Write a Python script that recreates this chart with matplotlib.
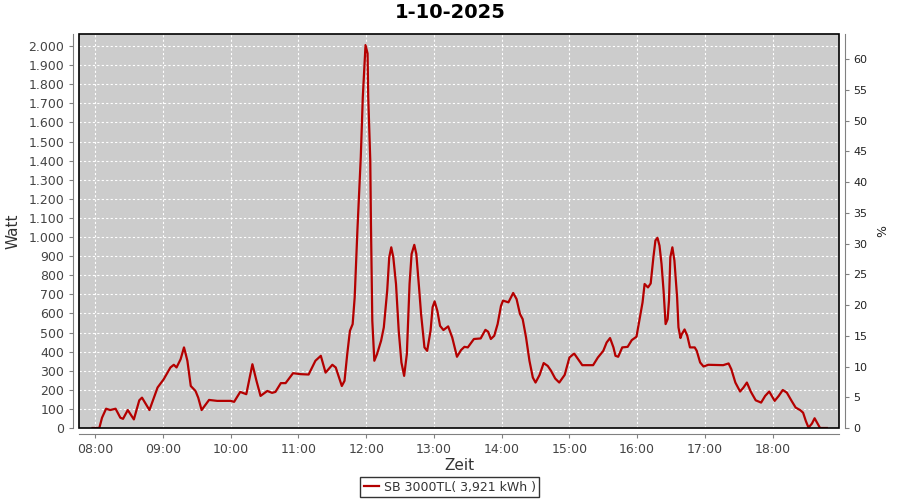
import matplotlib
matplotlib.use("Agg")
import matplotlib.pyplot as plt
from matplotlib.patches import Rectangle
from matplotlib.ticker import FuncFormatter, MultipleLocator, FixedLocator

# time in decimal hours, power in watt
hours = [7.96, 8.06, 8.10, 8.16, 8.22, 8.30, 8.37, 8.41, 8.48, 8.57, 8.65, 8.69, 8.80, 8.92,
         9.01, 9.11, 9.16, 9.20, 9.26, 9.31, 9.33, 9.36, 9.41, 9.48, 9.52, 9.57, 9.68, 9.80,
         10.00, 10.05, 10.14, 10.23, 10.32, 10.38, 10.44, 10.54, 10.61, 10.66, 10.74, 10.81,
         10.92, 11.03, 11.15, 11.25, 11.33, 11.40, 11.50, 11.55, 11.64, 11.68, 11.72, 11.76,
         11.80, 11.83, 11.87, 11.92, 11.95, 11.99, 12.02, 12.03, 12.06, 12.07, 12.09, 12.12,
         12.16, 12.22, 12.26, 12.31, 12.34, 12.37, 12.40, 12.44, 12.48, 12.52, 12.56, 12.60,
         12.64, 12.67, 12.71, 12.74, 12.78, 12.81, 12.86, 12.90, 12.95, 12.98, 13.01, 13.05,
         13.09, 13.14, 13.21, 13.27, 13.34, 13.40, 13.45, 13.50, 13.59, 13.69, 13.76, 13.80,
         13.84, 13.89, 13.94, 13.99, 14.02, 14.10, 14.17, 14.22, 14.27, 14.31, 14.36, 14.41,
         14.46, 14.50, 14.56, 14.62, 14.68, 14.73, 14.79, 14.85, 14.93, 15.00, 15.07, 15.13,
         15.19, 15.35, 15.42, 15.50, 15.55, 15.60, 15.65, 15.68, 15.72, 15.78, 15.86, 15.92,
         15.99, 16.04, 16.08, 16.11, 16.16, 16.20, 16.24, 16.27, 16.30, 16.33, 16.36, 16.39,
         16.42, 16.45, 16.47, 16.49, 16.52, 16.55, 16.59, 16.61, 16.64, 16.66, 16.70, 16.74,
         16.78, 16.85, 16.88, 16.93, 16.98, 17.05, 17.27, 17.35, 17.39, 17.45, 17.52, 17.57,
         17.62, 17.68, 17.75, 17.83, 17.89, 17.95, 18.03, 18.09, 18.15, 18.21, 18.28, 18.34,
         18.41, 18.45, 18.49, 18.53, 18.58, 18.62, 18.67, 18.70, 18.80]
watt = [0, 0, 54, 101, 94, 101, 54, 48, 94, 45, 145, 159, 94, 212,
        255, 317, 331, 317, 360, 422, 395, 352, 220, 194, 159, 94, 147, 142,
        142, 137, 189, 177, 334, 247, 168, 194, 184, 189, 235, 235,
        287, 282, 280, 352, 378, 290, 331, 317, 220, 247, 387, 509,
        544, 684, 1034, 1419, 1734, 2005, 1961, 1734, 1402, 1071, 562, 352,
        387, 457, 527, 719, 894, 946, 894, 754, 509, 343, 273, 387,
        754, 911, 959, 911, 736, 597, 422, 404, 509, 632, 663, 614,
        535, 513, 532, 474, 373, 408, 425, 422, 466, 469, 514, 504,
        466, 483, 544, 640, 667, 658, 707, 675, 597, 570, 474, 352,
        264, 238, 278, 340, 325, 299, 259, 238, 278, 369, 390, 360,
        329, 329, 369, 404, 448, 471, 422, 378, 373, 422, 425, 460,
        478, 579, 658, 754, 736, 757, 894, 982, 996, 955, 859, 719,
        544, 570, 667, 894, 946, 877, 684, 527, 471, 492, 516, 483,
        422, 422, 404, 343, 322, 331, 329, 338, 308, 238, 191, 212,
        238, 189, 145, 133, 168, 191, 142, 168, 199, 185, 142, 107,
        93, 80, 37, 2, 23, 51, 19, 0, 0]

hour_ticks = list(range(8, 19))
series_label = "SB 3000TL( 3,921 kWh )"
title = "1-10-2025"

fig = plt.figure(figsize=(9, 5), dpi=100)
ax = fig.add_axes([79 / 900, 1 - 428 / 500, 760 / 900, 394 / 500])
ax.set_facecolor("#cccccc")

ax.plot(hours, watt, color="#b40000", lw=1.6, label=series_label, zorder=3)

ax.set_xlim(7.76, 18.98)
ax.set_ylim(0, 2063)
ax.xaxis.set_major_locator(FixedLocator(hour_ticks))
ax.xaxis.set_major_formatter(FuncFormatter(lambda v, p: "%02d:00" % int(round(v))))
ax.yaxis.set_major_locator(MultipleLocator(100))
ax.yaxis.set_major_formatter(FuncFormatter(lambda v, p: "{:,.0f}".format(v).replace(",", ".")))
ax.grid(True, color="white", ls=(0, (2, 2)), lw=0.8)

gray = "#808080"
for s in ["top", "right"]:
    ax.spines[s].set_visible(False)
for s in ["left", "bottom"]:
    ax.spines[s].set_position(("outward", 4))
    ax.spines[s].set_color(gray)
ax.tick_params(colors=gray, labelcolor="#444444", labelsize=9, length=3)

ax.add_patch(Rectangle((0, 0), 1, 1, transform=ax.transAxes, fill=False,
                       ec="black", lw=1.2, clip_on=False, zorder=5))

ax2 = ax.twinx()
ax2.set_ylim(0, 64.1)
ax2.yaxis.set_major_locator(MultipleLocator(5))
for s in ["top", "left", "bottom"]:
    ax2.spines[s].set_visible(False)
ax2.spines["right"].set_position(("outward", 4))
ax2.spines["right"].set_color(gray)
ax2.tick_params(colors=gray, labelcolor="#222222", labelsize=8, length=3)
ax2.set_ylabel("%", fontsize=9, color="#222222", labelpad=6)

ax.set_xlabel("Zeit", fontsize=11, color="#333333", labelpad=2)
ax.set_ylabel("Watt", fontsize=11, color="#333333", labelpad=6)
fig.text(0.5, 1 - 12 / 500, title, ha="center", va="center", fontsize=14, fontweight="bold")

leg = fig.legend(loc="center", bbox_to_anchor=(449.5 / 900, 1 - 487 / 500), fontsize=9,
                 frameon=True, fancybox=False, handlelength=1.2, handletextpad=0.4,
                 borderpad=0.3, labelcolor="#333333")
leg.get_frame().set_edgecolor("black")
leg.get_frame().set_linewidth(1)

fig.savefig("out.png", dpi=100)
